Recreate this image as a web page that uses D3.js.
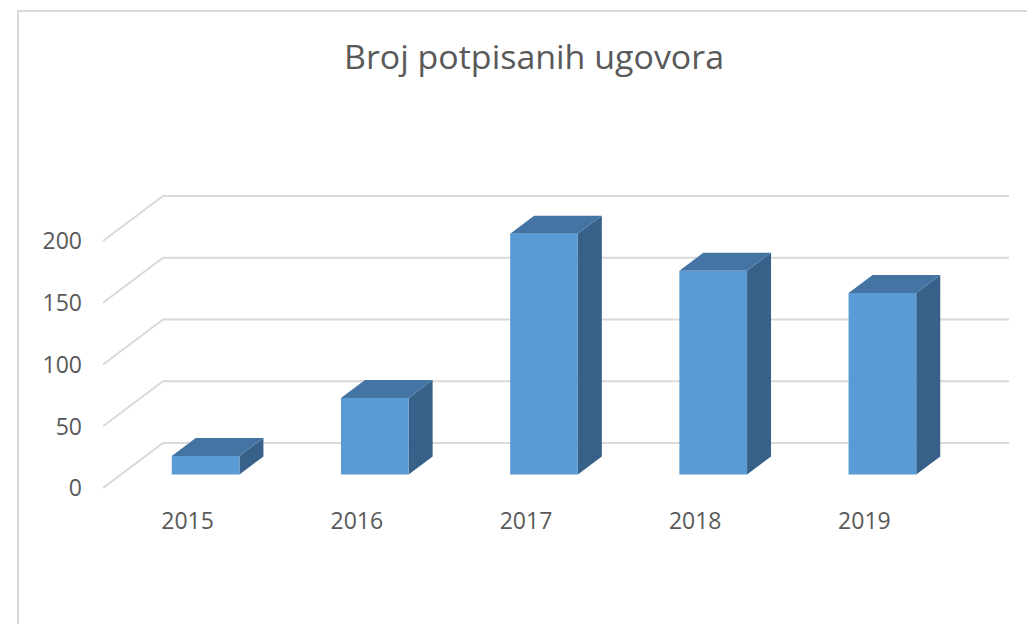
<!DOCTYPE html>
<html>
<head>
<meta charset="utf-8">
<script src="https://cdn.jsdelivr.net/npm/d3@7"></script>
<style>
  body { margin: 0; background: #fff; }
  text { font-family: "Open Sans", "Liberation Sans", sans-serif; fill: #595959; }
</style>
</head>
<body>
<script>
const years = ["2015", "2016", "2017", "2018", "2019"];
const contracts = [15, 62, 195, 165, 147];
const yTicks = [0, 50, 100, 150, 200];
const title = "Broj potpisanih ugovora";

const width = 1027, height = 624;
// oblique depth of the floor (full depth)
const depth = {dx: 60, dy: -45};
const barFront = 0.3, barBack = 0.7;

const svg = d3.select("body")
  .append("svg")
  .attr("width", width)
  .attr("height", height)

// chart frame
svg.append("path")
  .attr("d", "M18,624 L18,11 L1027,11")
  .attr("fill", "none")
  .attr("stroke", "#d9d9d9")
  .attr("stroke-width", 2)

svg.append("text")
  .attr("x", 534)
  .attr("y", 69)
  .attr("text-anchor", "middle")
  .attr("textLength", 380)
  .attr("lengthAdjust", "spacingAndGlyphs")
  .style("font-size", "32px")
  .text(title)

const xScale = d3.scaleBand()
  .domain(years)
  .range([103, 949])

const yScale = d3.scaleLinear()
  .domain([0, 200])
  .range([488, 241])

// gridlines: side wall diagonal + back wall
const grid = svg.append("g")
grid.selectAll("path")
  .data(yTicks)
  .join("path")
  .attr("fill", "none")
  .attr("stroke", "#d9d9d9")
  .attr("stroke-width", 2)
  .attr("d", d => {
    const y = yScale(d);
    return `M103,${y} L${103 + depth.dx},${y + depth.dy} L1009,${y + depth.dy}`;
  })

svg.append("g")
  .selectAll("text")
  .data(yTicks)
  .join("text")
  .attr("x", 82)
  .attr("y", d => yScale(d))
  .attr("dy", "0.36em")
  .attr("text-anchor", "end")
  .style("font-size", "23px")
  .text(d => d)

svg.append("g")
  .selectAll("text")
  .data(years)
  .join("text")
  .attr("x", d => xScale(d) + xScale.bandwidth() / 2)
  .attr("y", 529)
  .attr("text-anchor", "middle")
  .style("font-size", "23px")
  .text(d => d)

// 3d bars
const barW = xScale.bandwidth() * 0.4;
const ox = depth.dx * barFront, oy = depth.dy * barFront;
const bx = depth.dx * (barBack - barFront), by = depth.dy * (barBack - barFront);

const bars = svg.append("g")
  .selectAll("g")
  .data(years.map((y, i) => ({year: y, value: contracts[i]})))
  .join("g")

bars.each(function(d) {
  const g = d3.select(this);
  const xl = xScale(d.year) + xScale.bandwidth() / 2 - barW / 2 + ox;
  const xr = xl + barW;
  const yb = yScale(0) + oy;
  const yt = yScale(d.value) + oy;

  g.append("polygon")
    .attr("points", [[xr, yt], [xr + bx, yt + by], [xr + bx, yb + by], [xr, yb]].join(" "))
    .attr("fill", "#376189")

  g.append("polygon")
    .attr("points", [[xl, yt], [xr, yt], [xr + bx, yt + by], [xl + bx, yt + by]].join(" "))
    .attr("fill", "#4374a3")

  g.append("rect")
    .attr("x", xl)
    .attr("y", yt)
    .attr("width", barW)
    .attr("height", yb - yt)
    .attr("fill", "#5b9bd5")
})
</script>
</body>
</html>
